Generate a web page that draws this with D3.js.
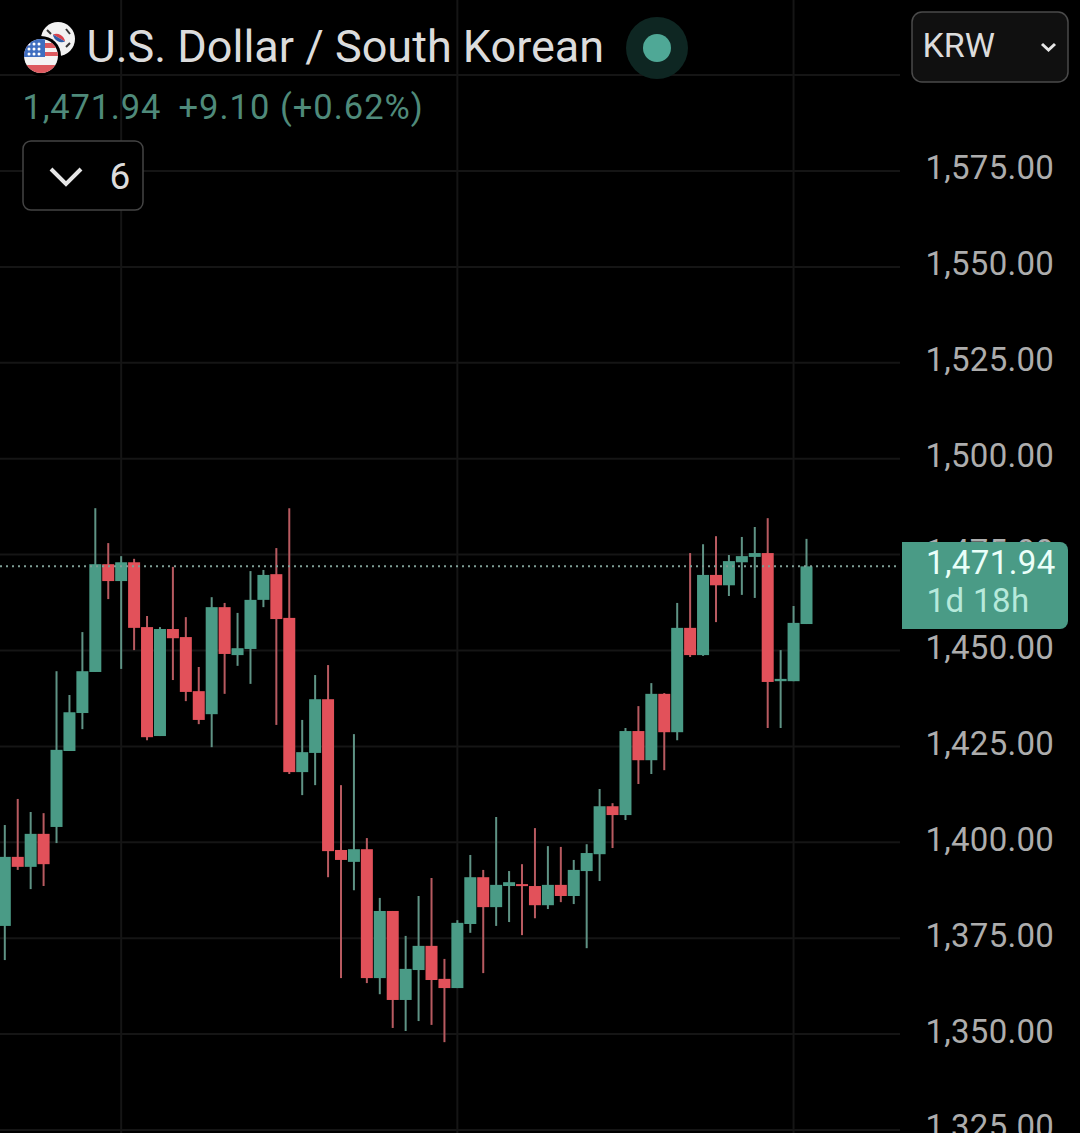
<!DOCTYPE html>
<html>
<head>
<meta charset="utf-8">
<script src="https://cdn.jsdelivr.net/npm/d3@7"></script>
<style>
  html, body { margin: 0; padding: 0; background: #000; }
  svg { display: block; }
  text { font-family: Roboto, "Noto Sans", sans-serif; }
</style>
</head>
<body>
<script>
// candle values, left to right
let opens = [1378.2,1396.2,1393.6,1402.2,1404.0,1423.8,1433.7,1444.4,1472.5,1468.1,1473.0,1456.1,1427.7,1455.6,1453.5,1439.4,1433.4,1461.3,1448.8,1450.4,1463.2,1469.9,1458.5,1418.3,1423.3,1437.3,1398.0,1394.9,1398.2,1364.6,1382.1,1358.9,1366.7,1373.0,1364.4,1362.0,1378.7,1390.9,1383.1,1388.6,1389.1,1388.6,1383.6,1388.9,1386.0,1392.5,1396.9,1409.4,1407.1,1429.0,1421.4,1438.7,1428.7,1455.9,1448.8,1469.7,1467.0,1473.0,1474.4,1475.4,1442.0,1442.0,1456.9];
let closes = [1396.2,1393.6,1402.2,1394.3,1424.1,1433.9,1444.6,1472.5,1468.1,1473.0,1455.9,1427.4,1455.6,1453.2,1439.2,1431.9,1461.3,1449.1,1450.6,1463.2,1469.7,1458.2,1418.3,1423.5,1437.3,1397.7,1395.4,1398.2,1364.6,1382.1,1358.9,1367.0,1373.0,1364.1,1362.0,1379.0,1390.9,1383.1,1388.9,1389.6,1388.6,1383.6,1388.9,1386.0,1392.8,1397.2,1409.4,1407.1,1429.0,1421.4,1438.7,1428.7,1455.9,1448.8,1469.7,1467.0,1473.3,1474.6,1475.4,1441.8,1442.6,1457.2,1471.94];
let highs = [1404.5,1411.3,1407.9,1407.6,1444.6,1438.4,1454.8,1487.1,1478.0,1474.6,1473.9,1459.0,1456.1,1471.8,1458.7,1445.7,1463.9,1462.4,1459.8,1470.7,1471.0,1476.7,1487.1,1431.9,1443.6,1446.2,1414.9,1428.2,1401.1,1385.5,1382.1,1375.6,1386.0,1390.7,1369.6,1379.7,1396.7,1392.8,1406.6,1392.5,1394.3,1403.7,1399.0,1398.8,1395.4,1399.5,1413.9,1410.2,1429.8,1435.5,1441.5,1438.9,1462.4,1475.4,1477.7,1479.8,1474.9,1479.6,1482.2,1484.5,1450.1,1461.6,1479.1];
let lows = [1369.3,1392.8,1387.8,1388.6,1399.8,1423.8,1429.5,1444.4,1463.4,1445.2,1450.1,1426.6,1427.7,1442.3,1436.8,1430.8,1424.8,1438.7,1446.0,1441.3,1461.3,1430.6,1417.8,1412.3,1414.9,1390.9,1364.6,1387.5,1363.3,1360.4,1351.6,1350.8,1353.4,1352.4,1347.9,1362.0,1376.4,1365.9,1378.2,1379.2,1375.8,1380.2,1382.6,1384.4,1383.9,1372.4,1389.9,1398.5,1405.8,1415.2,1417.8,1418.8,1426.6,1448.3,1448.6,1457.4,1464.2,1464.5,1463.7,1429.8,1429.8,1442.0,1456.9];
let yTicks = [1325,1350,1375,1400,1425,1450,1475,1500,1525,1550,1575];
let gridLevels = [1325,1350,1375,1400,1425,1450,1475,1500,1525,1550,1575,1600];
let gridCandles = [9,35,61];
let lastPrice = 1471.94;
let priceChange = '+9.10 (+0.62%)';
let countdown = '1d 18h';

let width = 1080;
let height = 1133;
let gridEnd = 900;
let upColor = '#4a9b86';
let downColor = '#e2515a';
let upWick = '#5f9385';
let downWick = '#b85a60';
let gridColor = '#151515';

let xScale = d3.scaleLinear().domain([0, opens.length - 1]).range([4.8, 806.5]);
let yScale = d3.scaleLinear().domain([1325, 1600]).range([1130, 75.1]);

let svg = d3.select('body')
            .append('svg')
            .attr('width', width)
            .attr('height', height)
            .attr('viewBox', `0 0 ${width} ${height}`);

let genGrid = () => {
    svg.append('g').selectAll('line')
        .data(gridLevels)
        .enter()
        .append('line')
        .attr('x1', 0)
        .attr('x2', gridEnd)
        .attr('y1', d => yScale(d))
        .attr('y2', d => yScale(d))
        .attr('stroke', gridColor)
        .attr('stroke-width', 2);

    svg.append('g').selectAll('line')
        .data(gridCandles)
        .enter()
        .append('line')
        .attr('x1', d => xScale(d))
        .attr('x2', d => xScale(d))
        .attr('y1', 0)
        .attr('y2', height)
        .attr('stroke', gridColor)
        .attr('stroke-width', 2);
}

let genCandles = () => {
    let candle = svg.append('g').selectAll('g')
        .data(d3.range(opens.length))
        .enter()
        .append('g');

    let isUp = i => closes[i] >= opens[i];

    candle.append('line')
        .attr('x1', i => xScale(i))
        .attr('x2', i => xScale(i))
        .attr('y1', i => yScale(highs[i]))
        .attr('y2', i => yScale(lows[i]))
        .attr('stroke', i => isUp(i) ? upWick : downWick)
        .attr('stroke-width', 2);

    candle.append('rect')
        .attr('x', i => xScale(i) - 6)
        .attr('width', 12)
        .attr('y', i => yScale(Math.max(opens[i], closes[i])))
        .attr('height', i => Math.max(2, Math.abs(yScale(opens[i]) - yScale(closes[i]))))
        .attr('fill', i => isUp(i) ? upColor : downColor);
}

let genAxis = () => {
    let yAxis = d3.axisRight(yScale)
        .tickValues(yTicks)
        .tickSize(0)
        .tickPadding(0)
        .tickFormat(d3.format(',.2f'));

    let axis = svg.append('g')
        .attr('transform', 'translate(925.5,0)')
        .call(yAxis);
    axis.select('.domain').remove();
    axis.selectAll('text')
        .attr('dy', '0.24em')
        .style('font-size', '33px')
        .style('letter-spacing', '0.25px')
        .attr('fill', '#adadad');
}

let genPriceLine = () => {
    svg.append('line')
        .attr('x1', 0)
        .attr('x2', gridEnd)
        .attr('y1', yScale(lastPrice))
        .attr('y2', yScale(lastPrice))
        .attr('stroke', '#7f9f96')
        .attr('stroke-width', 2)
        .attr('stroke-dasharray', '2,4');

    let tag = svg.append('g');
    tag.append('path')
        .attr('d', 'M902,542H1060a8,8 0 0 1 8,8V621a8,8 0 0 1 -8,8H902Z')
        .attr('fill', upColor);
    tag.append('text')
        .attr('x', 926)
        .attr('y', 574)
        .attr('fill', '#eafff9')
        .style('font-size', '33px')
        .style('letter-spacing', '0.4px')
        .text(d3.format(',.2f')(lastPrice));
    tag.append('text')
        .attr('x', 926.5)
        .attr('y', 612)
        .attr('fill', '#b6e9db')
        .style('font-size', '33px')
        .style('letter-spacing', '0.4px')
        .text(countdown);
}

let genFlags = () => {
    let defs = svg.append('defs');
    defs.append('clipPath').attr('id', 'usClip')
        .append('circle').attr('cx', 41).attr('cy', 56).attr('r', 17);

    // korea, sits behind
    svg.append('circle').attr('cx', 58).attr('cy', 39).attr('r', 17).attr('fill', '#f2f2f2');
    svg.append('path').attr('d', 'M52,38a9,9 0 0 1 14,0Z').attr('fill', '#d9434e').attr('transform', 'rotate(30 59 38)');
    svg.append('path').attr('d', 'M52,38a9,9 0 0 0 14,0Z').attr('fill', '#2f5fa8').attr('transform', 'rotate(30 59 38)');
    svg.append('line').attr('x1', 47).attr('y1', 30).attr('x2', 51).attr('y2', 34).attr('stroke', '#333').attr('stroke-width', 2);
    svg.append('line').attr('x1', 66).attr('y1', 29).attr('x2', 70).attr('y2', 34).attr('stroke', '#333').attr('stroke-width', 2);
    svg.append('line').attr('x1', 66).attr('y1', 47).attr('x2', 70).attr('y2', 43).attr('stroke', '#333').attr('stroke-width', 2);

    // usa on top with a black ring
    svg.append('circle').attr('cx', 41).attr('cy', 56).attr('r', 20).attr('fill', '#000');
    let us = svg.append('g').attr('clip-path', 'url(#usClip)');
    us.append('rect').attr('x', 24).attr('y', 39).attr('width', 34).attr('height', 34).attr('fill', '#f4f4f4');
    [[43, 5], [52, 4], [65, 8]].forEach(s => {
        us.append('rect').attr('x', 24).attr('y', s[0]).attr('width', 34)
            .attr('height', s[1]).attr('fill', '#dd5a5f');
    });
    us.append('rect').attr('x', 24).attr('y', 39).attr('width', 21).attr('height', 18).attr('fill', '#3f6ec0');
    [44, 49, 54].forEach(y => [29, 34, 39].forEach(x => {
        us.append('circle').attr('cx', x).attr('cy', y).attr('r', 1.5).attr('fill', '#fff');
    }));
}

let genHeader = () => {
    svg.append('text')
        .attr('x', 86.5)
        .attr('y', 62)
        .attr('fill', '#dcdcdc')
        .style('font-size', '45px')
        .text('U.S. Dollar / South Korean');

    svg.append('circle').attr('cx', 657).attr('cy', 48).attr('r', 31).attr('fill', '#0e2622');
    svg.append('circle').attr('cx', 657).attr('cy', 48).attr('r', 14).attr('fill', '#4fa896');

    svg.append('text')
        .attr('x', 22.5)
        .attr('y', 119)
        .attr('fill', '#4f8a7a')
        .style('font-size', '34.5px')
        .style('letter-spacing', '0.8px')
        .text(d3.format(',.2f')(lastPrice));
    svg.append('text')
        .attr('x', 178.5)
        .attr('y', 119)
        .attr('fill', '#4f8a7a')
        .style('font-size', '34.5px')
        .style('letter-spacing', '1px')
        .text(priceChange);

    // collapsed indicators button
    svg.append('rect')
        .attr('x', 23).attr('y', 141)
        .attr('width', 120).attr('height', 69)
        .attr('rx', 8)
        .attr('fill', '#000')
        .attr('stroke', '#444')
        .attr('stroke-width', 1.5);
    svg.append('path')
        .attr('d', 'M51,169L66,184L81,169')
        .attr('fill', 'none')
        .attr('stroke', '#e6e6e6')
        .attr('stroke-width', 4);
    svg.append('text')
        .attr('x', 109.5)
        .attr('y', 188.5)
        .attr('fill', '#dcdcdc')
        .style('font-size', '37px')
        .text('6');

    // currency select
    svg.append('rect')
        .attr('x', 912).attr('y', 12)
        .attr('width', 156).attr('height', 70)
        .attr('rx', 10)
        .attr('fill', '#101010')
        .attr('stroke', '#4a4a4a')
        .attr('stroke-width', 1.5);
    svg.append('text')
        .attr('x', 922.5)
        .attr('y', 57)
        .attr('fill', '#dcdcdc')
        .style('font-size', '34px')
        .text('KRW');
    svg.append('path')
        .attr('d', 'M1042,44L1048.5,50L1055,44')
        .attr('fill', 'none')
        .attr('stroke', '#e6e6e6')
        .attr('stroke-width', 3);
}

genGrid();
genCandles();
genAxis();
genPriceLine();
genFlags();
genHeader();
</script>
</body>
</html>
